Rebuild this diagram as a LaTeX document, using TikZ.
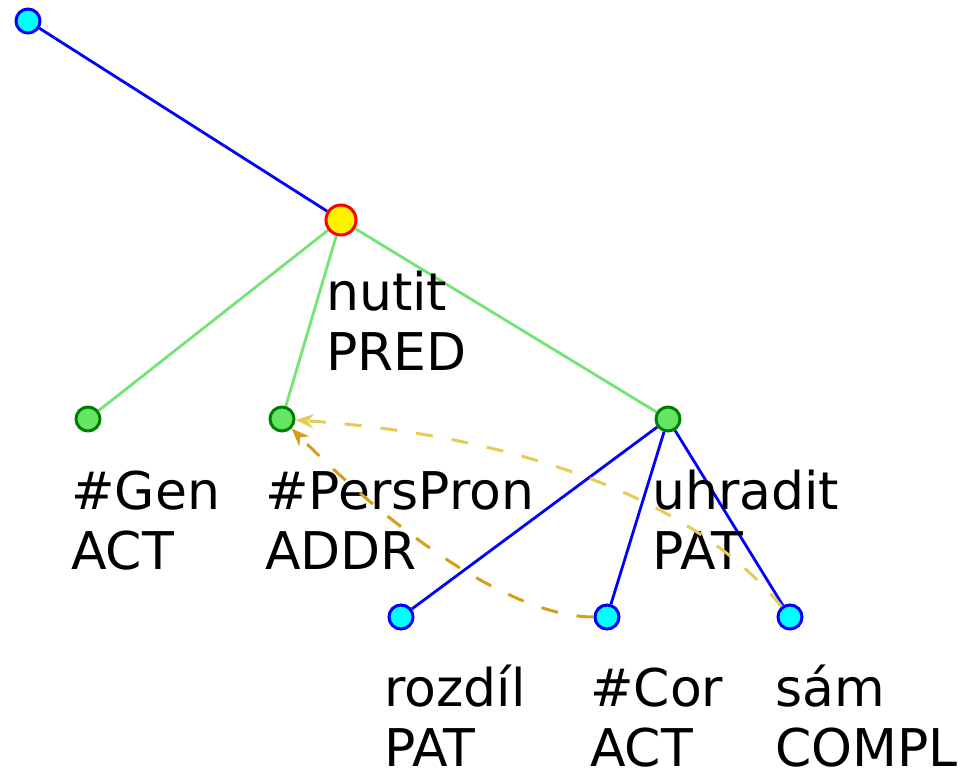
\documentclass[tikz,border=0pt]{standalone}
\usepackage{fontspec}
\setmainfont{DejaVu Sans}
\usetikzlibrary{arrows.meta,backgrounds}

\definecolor{nodecyan}{HTML}{00FFFF}
\definecolor{nodeblue}{HTML}{0000FF}
\definecolor{nodegreen}{HTML}{64E664}
\definecolor{darkgreen}{HTML}{008000}
\definecolor{edgegreen}{HTML}{74E474}
\definecolor{corefgram}{HTML}{E6CC55}
\definecolor{coreftext}{HTML}{D4A017}

\tikzset{
  tnode/.style={circle,inner sep=0pt,line width=3pt},
  cyannode/.style={tnode,minimum size=24pt,fill=nodecyan,draw=nodeblue},
  greennode/.style={tnode,minimum size=24pt,fill=nodegreen,draw=darkgreen},
  prednode/.style={tnode,minimum size=30pt,fill=yellow,draw=red},
  blueedge/.style={draw=nodeblue,line width=2.8pt},
  greenedge/.style={draw=edgegreen,line width=2.8pt},
  coref/.style={line width=3pt,dash pattern=on 17pt off 19pt,
    -{Stealth[length=18pt,width=14pt]}},
  lab/.style={anchor=base west,inner sep=0pt,font=\fontsize{52}{60}\selectfont}
}

% two-line label: name, x, y of first baseline, lemma, functor
\newcommand{\twolab}[5]{%
  \node[lab] (#1-a) at (#2,#3) {#4};
  \node[lab] (#1-b) at (#2,#3+60) {#5};
}

\begin{document}
\begin{tikzpicture}[x=1pt,y=-1pt]
\useasboundingbox (0,0) rectangle (964,771);

% tree nodes
\node[cyannode]  (root) at (28,21) {};
\node[prednode]  (nutit) at (341,220) {};
\node[greennode] (gen) at (88,419) {};
\node[greennode] (pp) at (282,419) {};
\node[greennode] (uh) at (668,419) {};
\node[cyannode]  (roz) at (401,617) {};
\node[cyannode]  (cor) at (607,617) {};
\node[cyannode]  (sam) at (790,617) {};

% labels
\twolab{nutitl}{326}{310}{nutit}{PRED}
\twolab{genl}{71}{509}{\#Gen}{ACT}
\twolab{ppl}{265}{509}{\#PersPron}{ADDR}
\twolab{uhl}{652}{509}{uhradit}{PAT}
\twolab{rozl}{384}{706}{rozdíl}{PAT}
\twolab{corl}{590}{706}{\#Cor}{ACT}
\twolab{saml}{775}{706}{sám}{COMPL}

% control points of the coreference curves
\coordinate (c1) at (696.7,502.3);
\coordinate (c2) at (527.3,436.3);
\coordinate (d1) at (522.3,617);
\coordinate (d2) at (414,551);

\begin{scope}[on background layer]
  \fill[white] (0,0) rectangle (964,771);
  \draw[blueedge] (root) -- (nutit);
  \draw[greenedge] (nutit) -- (gen);
  \draw[greenedge] (nutit) -- (pp);
  \draw[greenedge] (nutit) -- (uh);
  \draw[blueedge] (uh) -- (roz);
  \draw[blueedge] (uh) -- (cor);
  \draw[blueedge] (uh) -- (sam);
\end{scope}

% coreference arrows
\draw[coref,draw=corefgram] (sam) .. controls (c1) and (c2) .. (pp);
\draw[coref,draw=coreftext] (cor) .. controls (d1) and (d2) .. (pp);
\end{tikzpicture}
\end{document}
